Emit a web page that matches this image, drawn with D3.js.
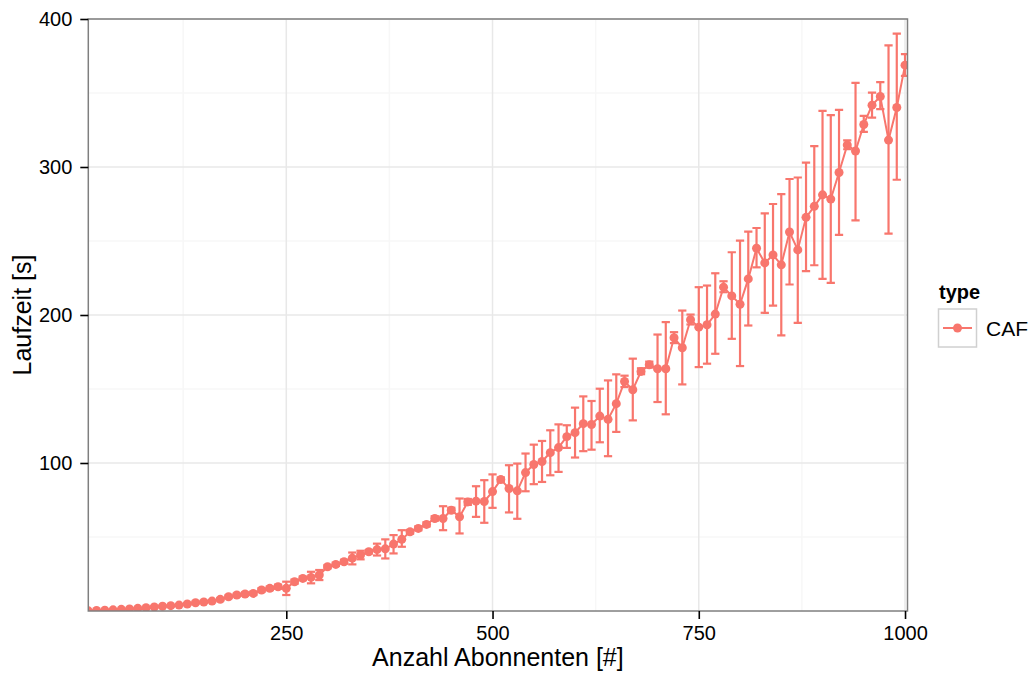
<!DOCTYPE html>
<html>
<head>
<meta charset="utf-8">
<script src="https://cdn.jsdelivr.net/npm/d3@7"></script>
<style>
    body { margin: 0; background: #fff; }
    text { font-family: "Liberation Sans", Arial, sans-serif; }
</style>
</head>
<body>
<svg width="1030" height="673"></svg>
<script>
// number of subscribers (x)
var abonnenten = [10, 20, 30, 40, 50, 60, 70, 80, 90, 100,
    110, 120, 130, 140, 150, 160, 170, 180, 190, 200,
    210, 220, 230, 240, 250, 260, 270, 280, 290, 300,
    310, 320, 330, 340, 350, 360, 370, 380, 390, 400,
    410, 420, 430, 440, 450, 460, 470, 480, 490, 500,
    510, 520, 530, 540, 550, 560, 570, 580, 590, 600,
    610, 620, 630, 640, 650, 660, 670, 680, 690, 700,
    710, 720, 730, 740, 750, 760, 770, 780, 790, 800,
    810, 820, 830, 840, 850, 860, 870, 880, 890, 900,
    910, 920, 930, 940, 950, 960, 970, 980, 990, 1000];

// mean run time [s]
var laufzeit = [0.1, 0.3, 0.5, 0.8, 1.1, 1.4, 1.8, 2.2, 2.7, 3.2,
    3.6, 4.0, 4.7, 5.6, 6.1, 6.7, 7.9, 9.6, 10.8, 11.5,
    11.9, 14.2, 15.3, 16.4, 15.3, 19.8, 22.0, 22.7, 24.3, 29.9,
    31.5, 33.3, 35.7, 37.8, 40.0, 41.5, 42.0, 45.2, 48.4, 53.5,
    55.8, 58.5, 62.5, 62.5, 68.1, 63.6, 73.7, 74.2, 74.0, 80.7,
    88.8, 82.8, 81.2, 93.5, 99.0, 101.0, 107.0, 110.4, 117.8, 120.5,
    126.6, 126.0, 131.7, 129.5, 140.1, 155.1, 149.5, 161.9, 166.4, 163.7,
    163.7, 184.6, 177.9, 196.8, 191.8, 193.4, 200.6, 218.8, 212.9, 207.3,
    224.4, 245.1, 235.2, 240.6, 233.9, 256.1, 244.0, 266.0, 273.4, 281.2,
    278.3, 296.3, 314.9, 310.8, 328.7, 341.8, 347.6, 318.2, 340.2, 368.8];

// lower end of the error bars
var unten = [0.0, 0.2, 0.4, 0.6, 0.9, 1.2, 1.5, 1.9, 2.3, 2.8,
    3.2, 3.5, 4.1, 4.9, 5.4, 6.0, 7.1, 8.7, 9.9, 10.4,
    10.8, 13.0, 14.1, 15.0, 10.8, 18.4, 20.8, 18.7, 20.9, 28.8,
    30.4, 32.0, 31.5, 34.9, 38.8, 37.5, 35.5, 38.9, 43.4, 52.2,
    54.5, 57.1, 61.0, 54.6, 66.4, 52.4, 71.7, 63.6, 59.6, 69.7,
    87.3, 66.6, 62.3, 80.9, 85.7, 87.2, 91.7, 94.0, 110.2, 103.7,
    108.0, 109.0, 114.0, 104.6, 121.0, 151.3, 128.8, 160.0, 164.5, 141.2,
    132.9, 181.0, 153.1, 193.6, 164.8, 167.1, 173.8, 215.4, 183.9, 165.5,
    192.9, 232.2, 201.5, 206.4, 186.2, 220.6, 194.7, 229.6, 233.6, 224.4,
    221.7, 254.1, 312.0, 263.9, 323.8, 333.4, 339.1, 255.0, 291.4, 361.6];

// upper end of the error bars
var oben = [0.2, 0.4, 0.6, 1.0, 1.3, 1.6, 2.1, 2.5, 3.1, 3.6,
    4.0, 4.5, 5.3, 6.3, 6.8, 7.4, 8.7, 10.5, 11.7, 12.6,
    13.0, 15.4, 16.5, 17.8, 19.8, 21.2, 23.2, 26.5, 27.7, 31.0,
    32.6, 34.6, 39.5, 40.7, 41.2, 45.5, 48.4, 51.3, 54.6, 54.8,
    57.1, 59.9, 64.0, 70.8, 69.8, 76.0, 75.7, 84.3, 88.4, 92.3,
    90.3, 98.5, 99.6, 106.4, 112.4, 114.9, 122.1, 126.1, 125.5, 137.4,
    145.0, 141.9, 150.2, 155.8, 159.9, 159.0, 170.5, 164.0, 168.5, 186.8,
    195.2, 188.4, 203.0, 200.3, 218.8, 219.9, 228.2, 222.8, 242.4, 250.3,
    256.3, 258.8, 268.7, 275.0, 281.7, 291.9, 292.9, 302.9, 314.1, 337.9,
    335.0, 338.6, 318.0, 356.8, 334.6, 350.3, 357.3, 382.2, 390.1, 376.2];

var xTicks = [250, 500, 750, 1000];
var xMinor = [125, 375, 625, 875];
var yTicks = [100, 200, 300, 400];
var yMinor = [50, 150, 250, 350];

var farbe = "#F8766D";

window.onload = function () {
    build_chart();
}

function build_chart() {
    var svg = d3.select("svg");

    var left = 88.3, right = 907.5, top = 19, bottom = 611;

    var data = abonnenten.map(function (a, i) {
        return { x: a, y: laufzeit[i], lo: unten[i], hi: oben[i] };
    });

    // scales
    var x = d3.scaleLinear().domain([10, 1003]).range([left, right]);
    var y = d3.scaleLinear().domain([0, 400]).range([bottom, top]);

    svg.append("rect")
        .attr("width", 1030).attr("height", 673).attr("fill", "#fff");

    svg.append("defs").append("clipPath").attr("id", "panel")
        .append("rect")
        .attr("x", left).attr("y", top)
        .attr("width", right - left).attr("height", bottom - top);

    // grid lines
    var grid = svg.append("g");
    grid.selectAll(".minx").data(xMinor).enter().append("line")
        .attr("x1", function (d) { return x(d); }).attr("x2", function (d) { return x(d); })
        .attr("y1", top).attr("y2", bottom)
        .attr("stroke", "#f7f7f7").attr("stroke-width", 1.5);
    grid.selectAll(".miny").data(yMinor).enter().append("line")
        .attr("y1", function (d) { return y(d); }).attr("y2", function (d) { return y(d); })
        .attr("x1", left).attr("x2", right)
        .attr("stroke", "#f7f7f7").attr("stroke-width", 1.5);
    grid.selectAll(".majx").data(xTicks).enter().append("line")
        .attr("x1", function (d) { return x(d); }).attr("x2", function (d) { return x(d); })
        .attr("y1", top).attr("y2", bottom)
        .attr("stroke", "#e8e8e8").attr("stroke-width", 1.5);
    grid.selectAll(".majy").data(yTicks).enter().append("line")
        .attr("y1", function (d) { return y(d); }).attr("y2", function (d) { return y(d); })
        .attr("x1", left).attr("x2", right)
        .attr("stroke", "#e8e8e8").attr("stroke-width", 1.5);

    // data layer
    var plot = svg.append("g").attr("clip-path", "url(#panel)");
    var capw = x(15) - x(10);

    var bars = plot.selectAll(".err").data(data).enter().append("g")
        .attr("stroke", farbe).attr("stroke-width", 2.2).attr("fill", "none");
    bars.append("line")
        .attr("x1", function (d) { return x(d.x); }).attr("x2", function (d) { return x(d.x); })
        .attr("y1", function (d) { return y(d.lo); }).attr("y2", function (d) { return y(d.hi); });
    bars.append("line")
        .attr("x1", function (d) { return x(d.x) - capw; }).attr("x2", function (d) { return x(d.x) + capw; })
        .attr("y1", function (d) { return y(d.lo); }).attr("y2", function (d) { return y(d.lo); });
    bars.append("line")
        .attr("x1", function (d) { return x(d.x) - capw; }).attr("x2", function (d) { return x(d.x) + capw; })
        .attr("y1", function (d) { return y(d.hi); }).attr("y2", function (d) { return y(d.hi); });

    var line = d3.line()
        .x(function (d) { return x(d.x); })
        .y(function (d) { return y(d.y); });
    plot.append("path").datum(data)
        .attr("d", line)
        .attr("fill", "none").attr("stroke", farbe).attr("stroke-width", 2);

    plot.selectAll("circle").data(data).enter().append("circle")
        .attr("cx", function (d) { return x(d.x); })
        .attr("cy", function (d) { return y(d.y); })
        .attr("r", 4.5)
        .attr("fill", farbe);

    // panel border
    svg.append("rect")
        .attr("x", left).attr("y", top)
        .attr("width", right - left).attr("height", bottom - top)
        .attr("fill", "none").attr("stroke", "#7f7f7f").attr("stroke-width", 1.5);

    // axes
    var xAxis = svg.append("g")
        .attr("transform", "translate(0," + bottom + ")")
        .call(d3.axisBottom(x).tickValues(xTicks).tickFormat(d3.format("d")).tickSize(8).tickPadding(7));
    var yAxis = svg.append("g")
        .attr("transform", "translate(" + left + ",0)")
        .call(d3.axisLeft(y).tickValues(yTicks).tickFormat(d3.format("d")).tickSize(8).tickPadding(8));
    [xAxis, yAxis].forEach(function (a) {
        a.select(".domain").remove();
        a.selectAll(".tick line").attr("stroke", "#000").attr("stroke-width", 1.6);
        a.selectAll(".tick text")
            .attr("fill", "#000")
            .style("font-size", "20px")
            .style("font-family", "Liberation Sans, Arial, sans-serif");
    });

    // axis titles
    svg.append("text")
        .attr("x", (left + right) / 2).attr("y", 666)
        .attr("text-anchor", "middle")
        .style("font-size", "25px")
        .text("Anzahl Abonnenten [#]");
    svg.append("text")
        .attr("transform", "translate(31," + (top + bottom) / 2 + ") rotate(-90)")
        .attr("text-anchor", "middle")
        .style("font-size", "25px")
        .text("Laufzeit [s]");

    // legend
    var legend = svg.append("g");
    legend.append("text")
        .attr("x", 939).attr("y", 299)
        .style("font-size", "20px").style("font-weight", "bold")
        .text("type");
    legend.append("rect")
        .attr("x", 938.5).attr("y", 309)
        .attr("width", 38).attr("height", 38)
        .attr("fill", "#fff").attr("stroke", "#d0d0d0").attr("stroke-width", 1.5);
    legend.append("line")
        .attr("x1", 943).attr("x2", 972).attr("y1", 328).attr("y2", 328)
        .attr("stroke", farbe).attr("stroke-width", 2);
    legend.append("circle")
        .attr("cx", 957.5).attr("cy", 328).attr("r", 4.5).attr("fill", farbe);
    legend.append("text")
        .attr("x", 986).attr("y", 335.5)
        .style("font-size", "21px")
        .text("CAF");
}
</script>
</body>
</html>
